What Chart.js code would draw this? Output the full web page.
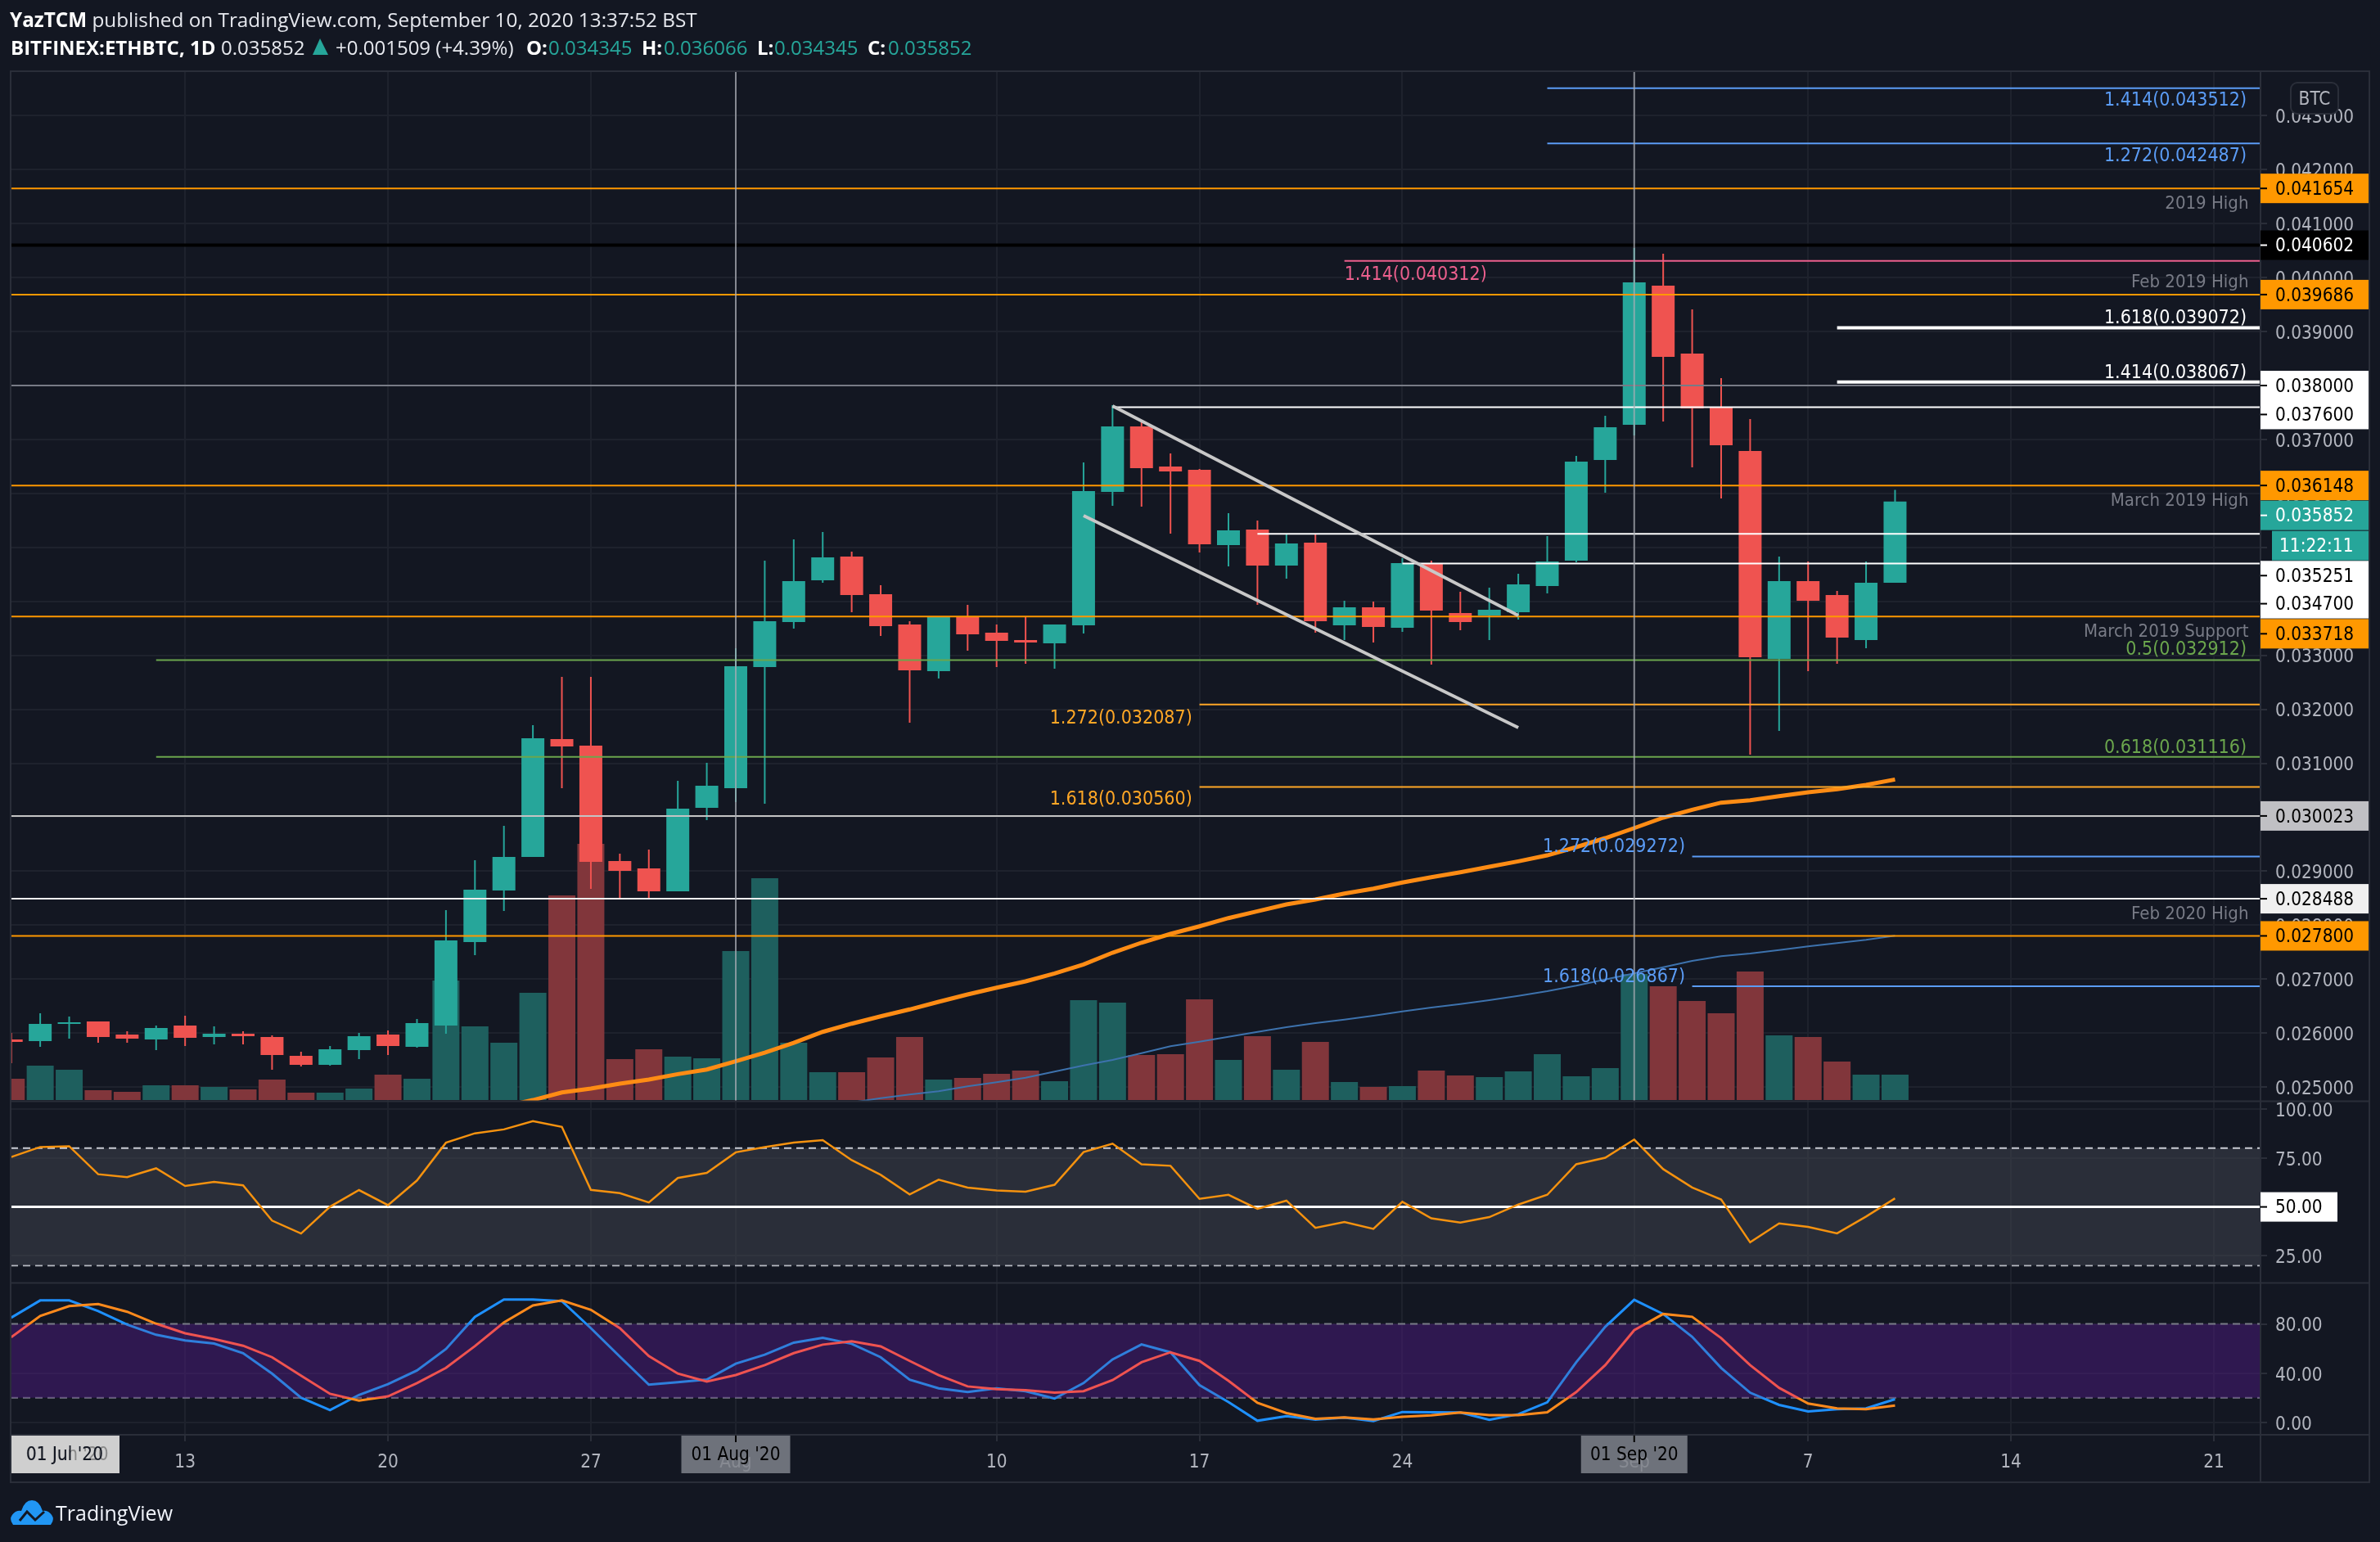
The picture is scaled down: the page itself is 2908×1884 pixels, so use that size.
<!DOCTYPE html>
<html><head><meta charset="utf-8">
<style>
html,body{margin:0;padding:0;background:#131722;overflow:hidden}
#wrap{position:relative;width:2908px;height:1884px}
canvas{position:absolute;left:0;top:0}
.h{position:absolute;font-family:"Open Sans",sans-serif;font-size:24px;line-height:32px;white-space:pre;color:#e6e8ee}
.b{font-weight:700;color:#fff}.t{color:#26a69a}
</style>
<script src="https://cdn.jsdelivr.net/npm/chart.js@4/dist/chart.umd.min.js"></script>
</head><body><div id="wrap">
<canvas id="c" width="2908" height="1884"></canvas>
<div class="h" style="left:12px;top:8px;font-size:24.3px"><span class="b">YazTCM</span> published on TradingView.com, September 10, 2020 13:37:52 BST</div>
<div class="h b" style="left:13px;top:42px">BITFINEX:ETHBTC, 1D</div>
<div class="h" style="left:270px;top:42px">0.035852</div>
<svg style="position:absolute;left:381px;top:47px" width="21" height="22"><path d="M10 0L20 20H1Z" fill="#26a69a"/></svg>
<div class="h" style="left:410px;top:42px">+0.001509 (+4.39%)</div>
<div class="h b" style="left:643px;top:42px">O:</div><div class="h t" style="left:670px;top:42px">0.034345</div>
<div class="h b" style="left:784px;top:42px">H:</div><div class="h t" style="left:811px;top:42px">0.036066</div>
<div class="h b" style="left:925px;top:42px">L:</div><div class="h t" style="left:946px;top:42px">0.034345</div>
<div class="h b" style="left:1060px;top:42px">C:</div><div class="h t" style="left:1085px;top:42px">0.035852</div>
<svg style="position:absolute;left:12px;top:1832px" width="54" height="32" viewBox="0 0 54 32"><path d="M4 31Q-3 22 7 15Q11 13 14 14Q18 1 27 1Q36 1 40 14Q43 13 47 15Q57 22 50 31Z" fill="#2196f3"/><path d="M12 26L21 15L31 25L42 15" stroke="#131722" stroke-width="3" fill="none"/></svg>
<div class="h" style="left:68px;top:1832px;font-size:25px;color:#f0f3fa">TradingView</div>
</div>
<script>
const dates=['Jul 7','Jul 8','Jul 9','Jul 10','Jul 11','Jul 12','Jul 13','Jul 14','Jul 15','Jul 16','Jul 17','Jul 18','Jul 19','Jul 20','Jul 21','Jul 22','Jul 23','Jul 24','Jul 25','Jul 26','Jul 27','Jul 28','Jul 29','Jul 30','Jul 31','Aug 1','Aug 2','Aug 3','Aug 4','Aug 5','Aug 6','Aug 7','Aug 8','Aug 9','Aug 10','Aug 11','Aug 12','Aug 13','Aug 14','Aug 15','Aug 16','Aug 17','Aug 18','Aug 19','Aug 20','Aug 21','Aug 22','Aug 23','Aug 24','Aug 25','Aug 26','Aug 27','Aug 28','Aug 29','Aug 30','Aug 31','Sep 1','Sep 2','Sep 3','Sep 4','Sep 5','Sep 6','Sep 7','Sep 8','Sep 9','Sep 10'];
const firstDay=-25; // days relative to 1 Aug
const open=[0.025880,0.025850,0.026168,0.026214,0.025971,0.025880,0.026138,0.025925,0.025986,0.025925,0.025576,0.025410,0.025683,0.025971,0.025743,0.026138,0.027685,0.028641,0.029263,0.031447,0.031326,0.029187,0.029050,0.028626,0.030173,0.030537,0.032782,0.033617,0.034390,0.034830,0.034132,0.033571,0.032706,0.033723,0.033419,0.033283,0.033222,0.033556,0.036029,0.037242,0.036499,0.036438,0.035043,0.035331,0.034663,0.035088,0.033556,0.033890,0.033510,0.034694,0.033783,0.033738,0.033799,0.034284,0.034754,0.036620,0.037273,0.039851,0.038592,0.037606,0.036787,0.032934,0.034375,0.034117,0.033283,0.034345];
const high=[0.026001,0.026365,0.026305,0.026214,0.026032,0.026138,0.026320,0.026123,0.026032,0.025956,0.025652,0.025759,0.026001,0.026047,0.026259,0.028277,0.029202,0.029839,0.031705,0.032600,0.032600,0.029323,0.029399,0.030674,0.031007,0.033131,0.034754,0.035149,0.035285,0.034921,0.034299,0.033632,0.033723,0.033935,0.033571,0.033723,0.033571,0.036575,0.037637,0.037318,0.036742,0.036453,0.035634,0.035498,0.035255,0.035255,0.034011,0.033996,0.034800,0.034754,0.034178,0.034254,0.034512,0.035209,0.036696,0.037439,0.040549,0.040443,0.039412,0.038137,0.037379,0.034830,0.034739,0.034193,0.034739,0.036066];
const low=[0.025440,0.025743,0.025895,0.025819,0.025819,0.025683,0.025759,0.025789,0.025789,0.025319,0.025379,0.025394,0.025516,0.025592,0.025728,0.025986,0.027442,0.028262,0.029263,0.030537,0.028671,0.028504,0.028504,0.028626,0.029945,0.030279,0.030249,0.033495,0.034345,0.033799,0.033359,0.031751,0.032570,0.033086,0.032782,0.032843,0.032752,0.033404,0.035771,0.035756,0.035255,0.034906,0.034648,0.033935,0.034421,0.033419,0.033283,0.033237,0.033435,0.032828,0.033465,0.033283,0.033662,0.034148,0.034724,0.036013,0.037075,0.037333,0.036484,0.035907,0.031159,0.031599,0.032706,0.032843,0.033131,0.034345];
const close=[0.025834,0.026168,0.026198,0.025925,0.025895,0.026092,0.025910,0.025986,0.025941,0.025592,0.025410,0.025698,0.025941,0.025759,0.026183,0.027715,0.028656,0.029263,0.031462,0.031311,0.029172,0.029005,0.028626,0.030158,0.030583,0.032797,0.033632,0.034375,0.034815,0.034117,0.033541,0.032722,0.033723,0.033389,0.033268,0.033237,0.033571,0.036044,0.037242,0.036469,0.036408,0.035058,0.035316,0.034663,0.035073,0.033632,0.033890,0.033526,0.034709,0.033829,0.033617,0.033844,0.034314,0.034739,0.036590,0.037227,0.039912,0.038532,0.037576,0.036893,0.032964,0.034375,0.034011,0.033328,0.034345,0.035852];
const volume=[26,42,37,12,10,18,18,16,13,25,9,9,14,31,26,146,90,70,131,250,313,50,62,53,51,182,271,70,34,34,52,77,25,27,32,36,23,122,119,55,56,123,49,78,37,71,22,16,17,36,30,28,35,56,29,39,154,139,121,106,157,79,77,47,31,31];
const rsi=[75.5,80.6,81.0,66.7,65.2,69.7,60.7,62.8,61.0,43.0,36.4,50.1,58.6,50.9,63.5,82.8,87.6,89.6,93.8,90.9,58.7,57.0,52.3,64.8,67.4,77.9,80.6,82.9,84.1,73.9,66.4,56.4,63.9,59.9,58.4,57.8,61.3,78.0,82.3,71.8,71.0,54.1,56.2,49.0,53.2,39.3,42.3,38.8,52.6,44.2,42.0,44.8,51.2,56.2,71.8,75.1,84.4,69.3,59.9,53.8,31.9,41.6,39.8,36.5,45.1,54.4];
const stochK=[85.1,99.1,99.1,90.4,79.5,71.2,66.6,64.1,56.3,39.7,20.1,10.1,22.4,31.1,42.2,59.7,85.8,99.8,99.8,98.5,76.6,53.5,30.7,32.7,34.8,47.7,55.1,64.8,68.7,63.9,53.0,34.8,27.7,24.7,27.7,25.4,19.4,32.0,51.2,63.4,57.0,30.4,16.6,1.4,5.1,2.3,3.9,1.2,8.5,8.3,8.1,2.1,6.7,16.4,48.9,77.7,99.6,88.1,69.6,44.3,24.2,14.3,9.0,10.8,11.5,18.9];
const stochD=[69.2,86.5,94.5,96.1,89.9,80.2,72.4,67.8,62.3,53.0,38.0,23.3,17.8,21.2,32.0,44.3,62.0,81.2,95.0,99.1,91.5,76.6,54.0,39.7,33.2,38.5,46.6,56.3,63.2,65.9,61.8,50.0,38.5,29.3,27.0,26.3,24.2,25.4,34.4,48.9,57.0,50.0,33.9,15.9,7.6,3.0,4.2,2.5,4.6,5.8,8.1,6.0,6.0,8.3,24.7,46.6,74.9,88.1,85.8,68.5,46.6,28.1,15.4,11.5,10.8,13.8];
const maSlowStart=-8;
const maSlow=[0.024640,0.024757,0.024898,0.024970,0.025061,0.025137,0.025238,0.025323,0.025475,0.025637,0.025819,0.026021,0.026173,0.026309,0.026437,0.026578,0.026714,0.026840,0.026957,0.027104,0.027271,0.027488,0.027674,0.027837,0.027978,0.028130,0.028257,0.028383,0.028474,0.028585,0.028676,0.028788,0.028888,0.028979,0.029081,0.029182,0.029293,0.029445,0.029612,0.029798,0.029991,0.030138,0.030269,0.030314,0.030390,0.030461,0.030517,0.030598,0.030699];
const maFastStart=4;
const maFast=[0.024712,0.024792,0.024859,0.024920,0.025011,0.025086,0.025171,0.025284,0.025399,0.025501,0.025626,0.025754,0.025839,0.025930,0.026021,0.026107,0.026183,0.026248,0.026320,0.026400,0.026471,0.026537,0.026608,0.026688,0.026775,0.026877,0.026992,0.027104,0.027219,0.027336,0.027423,0.027473,0.027538,0.027605,0.027665,0.027726,0.027802];
const levelPrices=[0.043512,0.042487,0.041654,0.040602,0.040312,0.039686,0.039072,0.038067,0.038000,0.037600,0.036148,0.035251,0.034700,0.033718,0.032912,0.032087,0.031116,0.030560,0.030023,0.029272,0.028488,0.027800,0.026867];
const levelStartDays=[28,28,null,null,21,null,38,38,null,13,null,18,23,null,-20,16,-20,16,null,33,null,null,33];
const channelUpperDays=[13,27],channelUpperPrices=[0.037621,0.033738];
const channelLowerDays=[12,27],channelLowerPrices=[0.035589,0.031660];
const monthMarkerDays=[0,31];
const priceTicks=[0.025,0.026,0.027,0.028,0.029,0.030,0.031,0.032,0.033,0.034,0.035,0.036,0.037,0.038,0.039,0.040,0.041,0.042,0.043];
const rsiTicks=[25,50,75,100];
const rsiBands=[80,20],rsiMid=50;
const stochTicks=[0,40,80];
const stochBands=[80,20];
const timeTickDays=[-19,-12,-5,0,9,16,23,31,37,44,51];
const timeTickLabels=['13','20','27','Aug','10','17','24','Sep','7','14','21'];
const xMin=-25.02,xMax=52.61;

const BG='#131722',GRID='#1e222d',EDGE='#2a2e39',UP='#26a69a',DOWN='#ef5350',UPV='#1e5f5e',DOWNV='#81363b',AXT='#b2b5be';
const OR='#ff9800',BL='#5b9cf6',WH='#ffffff',GN='#6ba64d',PK='#ec5f8d',GR='#787b86',FIB='#ffa726';
const FONT='"DejaVu Sans Condensed","DejaVu Sans",sans-serif';
const levelStyles=[[BL,2],[BL,2],[OR,2],['#000',4],[PK,2],[OR,2],[WH,4],[WH,4],[GR,2],[WH,2],[OR,2],[WH,2],[WH,2],[OR,2],[GN,2],[FIB,2],[GN,2],[FIB,2],['#c4c4c4',2],[BL,2],['#f0f0f0',2],[OR,2],[BL,2]];
const tags=[[0.041654,OR,'#000',0],[0.040602,'#000','#fff',0],[0.039686,OR,'#000',0],[0.038000,'#fff','#000',0],[0.037600,'#fff','#000',9],[0.036148,OR,'#000',0],[0.035852,UP,'#fff',17],[0.035251,'#fff','#000',51],[0.034700,'#fff','#000',49],[0.033718,OR,'#000',21],[0.030023,'#c0c0c4','#000',0],[0.028488,'#f0f0f0','#000',0],[0.027800,OR,'#000',0]];
const notes=[
['1.414(0.043512)',0.043512,13,52.13,'right',BL,23],['1.272(0.042487)',0.042487,14,52.13,'right',BL,23],
['2019 High',0.041654,17,52.2,'right',GR,22],['Feb 2019 High',0.039686,-17,52.2,'right',GR,22],
['1.618(0.039072)',0.039072,-13,52.13,'right',WH,23],['1.414(0.038067)',0.038067,-13,52.13,'right',WH,23],
['March 2019 High',0.036148,17,52.2,'right',GR,22],['March 2019 Support',0.033718,17,52.2,'right',GR,22],
['0.5(0.032912)',0.032912,-14,52.13,'right',GN,23],['0.618(0.031116)',0.031116,-13,52.13,'right',GN,23],
['Feb 2020 High',0.028488,17,52.2,'right',GR,22],
['1.414(0.040312)',0.040312,15,21,'left',PK,23],
['1.272(0.032087)',0.032087,15,15.75,'right',FIB,23],['1.618(0.030560)',0.030560,14,15.75,'right',FIB,23],
['1.272(0.029272)',0.029272,-13,32.76,'right',BL,23],['1.618(0.026867)',0.026867,-13,32.76,'right',BL,23]];

const dayOf=i=>firstDay+i;
const isUp=i=>close[i]>=open[i];
const col=(a,b)=>dates.map((_,i)=>isUp(i)?a:b);
const fixedAxis=(size,horizontal)=>function(s){if(horizontal)s.height=size;else s.width=size;s.paddingTop=s.paddingBottom=s.paddingLeft=s.paddingRight=0;};
const line=(pts,yAxisID,o)=>Object.assign({type:'line',data:pts,yAxisID,xAxisID:'x',pointRadius:0,tension:0,fill:false,borderCapStyle:'butt'},o);
const full=v=>[{x:xMin,y:v},{x:xMax,y:v}];

const datasets=[];
datasets.push({type:'bar',label:'Volume',data:dates.map((_,i)=>({x:dayOf(i),y:volume[i]})),yAxisID:'vol',xAxisID:'x',backgroundColor:col(UPV,DOWNV),barThickness:33,grouped:false,borderWidth:0,inflateAmount:0,order:100});
datasets.push({type:'bar',label:'Wick',data:dates.map((_,i)=>({x:dayOf(i),y:[low[i],high[i]]})),yAxisID:'price',xAxisID:'x',backgroundColor:col(UP,DOWN),barThickness:2,grouped:false,borderWidth:0,inflateAmount:0,order:90});
datasets.push({type:'bar',label:'Body',data:dates.map((_,i)=>({x:dayOf(i),y:[open[i],close[i]]})),yAxisID:'price',xAxisID:'x',backgroundColor:col(UP,DOWN),barThickness:28,grouped:false,borderWidth:0,inflateAmount:0,order:89});
datasets.push(line(maSlow.map((v,i)=>({x:maSlowStart+i,y:v})),'price',{label:'MA slow',borderColor:'#ff8c14',borderWidth:5,order:40}));
datasets.push(line(maFast.map((v,i)=>({x:maFastStart+i,y:v})),'price',{label:'MA fast',borderColor:'#3d72ad',borderWidth:2,order:41}));
levelPrices.forEach((p,i)=>{const s=levelStartDays[i];
  datasets.push(line([{x:s===null?xMin:s,y:p},{x:xMax,y:p}],'price',{label:'Level '+p,borderColor:levelStyles[i][0],borderWidth:levelStyles[i][1],order:30}));});
datasets.push(line(channelUpperDays.map((d,i)=>({x:d,y:channelUpperPrices[i]})),'price',{label:'Channel upper',borderColor:'#c8c8c8',borderWidth:4,order:20}));
datasets.push(line(channelLowerDays.map((d,i)=>({x:d,y:channelLowerPrices[i]})),'price',{label:'Channel lower',borderColor:'#c8c8c8',borderWidth:4,order:20}));
monthMarkerDays.forEach(d=>datasets.push(line([{x:d,y:0.024735},{x:d,y:0.043826}],'price',{label:'Month '+d,borderColor:'rgba(170,172,180,0.75)',borderWidth:2,order:10})));
// RSI pane
datasets.push(line(full(rsiBands[0]),'rsi',{label:'RSI upper',borderColor:'#c9ccd4',borderWidth:2,borderDash:[9,6],fill:'+1',backgroundColor:'rgba(65,69,80,0.5)',order:60}));
datasets.push(line(full(rsiBands[1]),'rsi',{label:'RSI lower',borderColor:'#c9ccd4',borderWidth:2,borderDash:[9,6],order:61}));
datasets.push(line(full(rsiMid),'rsi',{label:'RSI mid',borderColor:'#ffffff',borderWidth:3,order:55}));
datasets.push(line(rsi.map((v,i)=>({x:dayOf(i),y:v})),'rsi',{label:'RSI',borderColor:'#f5920f',borderWidth:2.5,order:50}));
// Stoch pane
datasets.push(line(full(stochBands[0]),'stoch',{label:'Stoch upper',borderColor:GR,borderWidth:2,borderDash:[9,6],fill:'+1',backgroundColor:'rgba(75,25,125,0.5)',order:60}));
datasets.push(line(full(stochBands[1]),'stoch',{label:'Stoch lower',borderColor:GR,borderWidth:2,borderDash:[9,6],order:61}));
const clamp01=v=>Math.min(1,Math.max(0,v));
const bandGradient=(outside,inside)=>ctx=>{const c=ctx.chart,s=c.scales.stoch;if(!s||!(s.bottom>s.top)||!isFinite(s.min))return outside;
  const y0=s.top,y1=s.bottom,a=clamp01((s.getPixelForValue(stochBands[0])-y0)/(y1-y0)),b=clamp01((s.getPixelForValue(stochBands[1])-y0)/(y1-y0));
  const g=c.ctx.createLinearGradient(0,y0,0,y1);g.addColorStop(0,outside);g.addColorStop(a,outside);g.addColorStop(a,inside);g.addColorStop(b,inside);g.addColorStop(b,outside);g.addColorStop(1,outside);return g;};
datasets.push(line(stochK.map((v,i)=>({x:dayOf(i),y:v})),'stoch',{label:'%K',borderColor:bandGradient('#1e90ff','#2f7fdc'),borderWidth:3,order:51}));
datasets.push(line(stochD.map((v,i)=>({x:dayOf(i),y:v})),'stoch',{label:'%D',borderColor:bandGradient('#ff8a1c','#ef5350'),borderWidth:3,order:50}));

const chrome={id:'chrome',afterDraw(chart){
  const c=chart.ctx,a=chart.chartArea,P=chart.scales.price,R=chart.scales.rsi,X=chart.scales.x;
  const right=2895,axisBottom=1811,dy=2;
  c.save();
  c.strokeStyle=EDGE;c.lineWidth=2;
  c.beginPath();c.rect(a.left,a.top,right-a.left,axisBottom-a.top);c.stroke();
  c.beginPath();[P.bottom,R.bottom,a.bottom].forEach(y=>{c.moveTo(a.left,y);c.lineTo(right,y);});c.moveTo(a.right,a.top);c.lineTo(a.right,axisBottom);c.stroke();
  c.textBaseline='middle';
  notes.forEach(n=>{c.font=n[6]+'px '+FONT;c.fillStyle=n[5];c.textAlign=n[4];c.fillText(n[0],X.getPixelForValue(n[3]),P.getPixelForValue(n[1])+n[2]+dy);});
  c.font='22.4px '+FONT;
  c.fillStyle=BG;c.strokeStyle=EDGE;c.beginPath();c.roundRect(2799,101,58,38,8);c.fill();c.stroke();
  c.fillStyle=AXT;c.textAlign='center';c.fillText('BTC',2828,120+dy);
  c.textAlign='left';
  tags.forEach(t=>{const y=P.getPixelForValue(t[0])+t[3];c.fillStyle=t[1];c.fillRect(a.right,y-18,132,36);
    c.strokeStyle=t[2];c.lineWidth=2;c.beginPath();c.moveTo(a.right,y);c.lineTo(a.right+8,y);c.stroke();
    c.fillStyle=t[2];c.fillText(t[0].toFixed(6),2780,y+dy);});
  const ty=P.getPixelForValue(0.035852)+54;
  c.fillStyle=UP;c.fillRect(2776,ty-18,118,36);c.fillStyle='#fff';c.fillText('11:22:11',2785,ty+dy);
  const ry=R.getPixelForValue(rsiMid);c.fillStyle='#fff';c.fillRect(a.right,ry-18,94,36);c.fillStyle='#000';c.fillText('50.00',2780,ry+dy);
  c.strokeStyle='#000';c.beginPath();c.moveTo(a.right,ry);c.lineTo(a.right+8,ry);c.stroke();
  const boxes=[[0,"01 Aug '20",133],[31,"01 Sep '20",130]];
  boxes.forEach(b=>{const x=X.getPixelForValue(b[0]);c.fillStyle='rgba(127,130,139,0.85)';c.fillRect(x-b[2]/2,a.bottom+1,b[2],46);
    c.strokeStyle='#000';c.lineWidth=2;c.beginPath();c.moveTo(x,a.bottom+1);c.lineTo(x,a.bottom+9);c.stroke();
    c.fillStyle='#000';c.textAlign='center';c.fillText(b[1],x,a.bottom+25);});
  c.fillStyle='#cfcfcf';c.fillRect(a.left+1,a.bottom+1,132,46);
  c.textAlign='center';c.fillStyle='#8a8a8a';c.fillText("01 Jun '20",a.left+69,a.bottom+25);
  c.fillStyle='#131722';c.fillText("01 Jul '20",a.left+66,a.bottom+25);
  c.restore();
}};

const yTicks=fmt=>({autoSkip:false,padding:10,labelOffset:3,color:AXT,font:{family:FONT,size:22.4},callback:fmt});
const yGrid={color:GRID,lineWidth:2,tickLength:8,tickColor:EDGE};
const chart=new Chart(document.getElementById('c'),{
  data:{datasets},
  plugins:[chrome],
  options:{responsive:false,animation:false,devicePixelRatio:1,
    layout:{padding:{top:87,left:13,right:13,bottom:73}},
    plugins:{legend:{display:false},tooltip:{enabled:false},title:{display:false}},
    scales:{
      x:{type:'linear',position:'bottom',offset:false,min:xMin,max:xMax,bounds:'data',
        afterBuildTicks:s=>{s.ticks=timeTickDays.map(v=>({value:v}));},
        afterFit:fixedAxis(58,true),
        grid:{color:GRID,lineWidth:2,tickLength:8,tickColor:EDGE,offset:false},border:{display:false},
        ticks:{autoSkip:false,maxRotation:0,padding:13,color:AXT,font:{family:FONT,size:22.4},callback:v=>timeTickLabels[timeTickDays.indexOf(v)]||''}},
      price:{type:'linear',position:'right',stack:'panes',stackWeight:1258.5,weight:1,min:0.024735,max:0.043826,bounds:'data',
        afterBuildTicks:s=>{s.ticks=priceTicks.map(v=>({value:v}));},afterFit:fixedAxis(133,false),
        grid:yGrid,border:{display:false},ticks:yTicks(v=>v.toFixed(6))},
      rsi:{type:'linear',position:'right',stack:'panes',stackWeight:222,weight:2,min:11.16,max:103.97,bounds:'data',
        afterBuildTicks:s=>{s.ticks=rsiTicks.map(v=>({value:v}));},afterFit:fixedAxis(133,false),
        grid:yGrid,border:{display:false},ticks:yTicks(v=>v.toFixed(2))},
      stoch:{type:'linear',position:'right',stack:'panes',stackWeight:185.5,weight:3,min:-10,max:113.3,bounds:'data',
        afterBuildTicks:s=>{s.ticks=stochTicks.map(v=>({value:v}));},afterFit:fixedAxis(133,false),
        grid:yGrid,border:{display:false},ticks:yTicks(v=>v.toFixed(2))},
      vol:{type:'linear',display:false,position:'right',min:-409,max:1257,bounds:'data'}
    }}
});
chart.update('none');
</script></body></html>
